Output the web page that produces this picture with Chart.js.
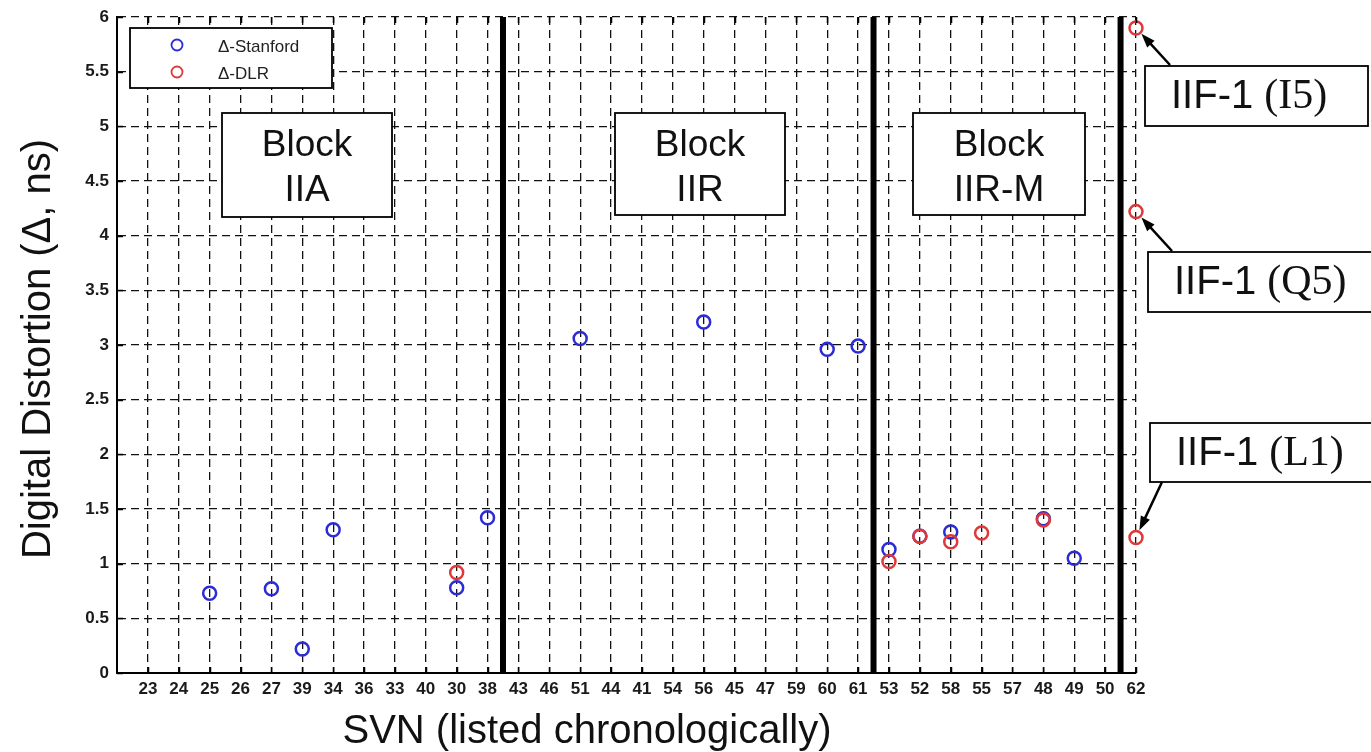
<!DOCTYPE html>
<html>
<head>
<meta charset="utf-8">
<script src="https://cdn.jsdelivr.net/npm/chart.js@4.4.1/dist/chart.umd.min.js"></script>
<style>
  html, body { margin: 0; padding: 0; background: #fff; }
  #wrap { width: 1371px; height: 752px; }
</style>
</head>
<body>
<div id="wrap"><canvas id="chart"></canvas></div>
<script>
// SVNs in launch order, and the measured distortion per SVN (null = not measured)
const svn = ["23", "24", "25", "26", "27", "39", "34", "36", "33", "40", "30", "38",
  "43", "46", "51", "44", "41", "54", "56", "45", "47", "59", "60", "61",
  "53", "52", "58", "55", "57", "48", "49", "50", "62"];
const stanford = [null, null, 0.73, null, 0.77, 0.22, 1.31, null, null, null, 0.78, 1.42,
  null, null, 3.06, null, null, null, 3.21, null, null, null, 2.96, 2.99,
  1.13, 1.25, 1.29, null, null, 1.41, 1.05, null, null];
const dlr = [null, null, null, null, null, null, null, null, null, null, 0.92, null,
  null, null, null, null, null, null, null, null, null, null, null, null,
  1.02, 1.25, 1.2, 1.28, null, 1.4, null, null, null];
// IIF-1 (SVN 62) measured on three signals
const iif1Svn = "62";
const iif1Signals = ["I5", "Q5", "L1"];
const iif1Values = [5.9, 4.22, 1.24];
// last SVN of each block, a thick line goes after it
const blockNames = ["IIA", "IIR", "IIR-M"];
const blockLast = ["38", "61", "50"];
const yTicks = [0, 0.5, 1, 1.5, 2, 2.5, 3, 3.5, 4, 4.5, 5, 5.5, 6];

const BLUE = "#2c2cd4";
const RED = "#de3838";
const SANS = "'Liberation Sans', Arial, sans-serif";
const SERIF = "'Liberation Serif', 'Times New Roman', serif";

function toPoints(values) {
  const pts = [];
  values.forEach((v, i) => { if (v !== null) pts.push({ x: i, y: v }); });
  return pts;
}

const dlrPoints = toPoints(dlr);
iif1Values.forEach((v) => dlrPoints.push({ x: svn.indexOf(iif1Svn), y: v }));

const separators = blockLast.map((s) => {
  const pos = svn.indexOf(s) + 0.5;
  return {
    type: "line",
    data: [{ x: pos, y: 0 }, { x: pos, y: 6 }],
    borderColor: "#000",
    borderWidth: 6,
    pointRadius: 0,
    showLine: true,
    order: 3,
  };
});

function arrow(ctx, x1, y1, x2, y2) {
  const ang = Math.atan2(y2 - y1, x2 - x1);
  ctx.beginPath();
  ctx.moveTo(x1, y1);
  ctx.lineTo(x2 - 10 * Math.cos(ang), y2 - 10 * Math.sin(ang));
  ctx.stroke();
  ctx.beginPath();
  ctx.moveTo(x2, y2);
  ctx.lineTo(x2 - 14 * Math.cos(ang) + 5 * Math.sin(ang), y2 - 14 * Math.sin(ang) - 5 * Math.cos(ang));
  ctx.lineTo(x2 - 14 * Math.cos(ang) - 5 * Math.sin(ang), y2 - 14 * Math.sin(ang) + 5 * Math.cos(ang));
  ctx.closePath();
  ctx.fill();
}

function box(ctx, x, y, w, h) {
  ctx.fillStyle = "#fff";
  ctx.fillRect(x, y, w, h);
  ctx.strokeStyle = "#000";
  ctx.lineWidth = 1.8;
  ctx.strokeRect(x, y, w, h);
}

// ticks, labels, legend and text boxes drawn like the matlab figure
const overlay = {
  id: "overlay",
  afterDraw(chart) {
    const { ctx, chartArea: a, scales: { x, y } } = chart;
    ctx.save();

    // inward tick marks
    ctx.strokeStyle = "#000";
    ctx.lineWidth = 1.5;
    ctx.beginPath();
    svn.forEach((s, i) => {
      const px = Math.round(x.getPixelForValue(i)) + 0.5;
      ctx.moveTo(px, a.bottom); ctx.lineTo(px, a.bottom - 6);
      ctx.moveTo(px, a.top); ctx.lineTo(px, a.top + 6);
    });
    yTicks.forEach((v) => {
      const py = Math.round(y.getPixelForValue(v)) + 0.5;
      ctx.moveTo(a.left, py); ctx.lineTo(a.left + 6, py);
    });
    ctx.stroke();

    // tick labels
    ctx.fillStyle = "#1a1a1a";
    ctx.font = "bold 17px " + SANS;
    ctx.textAlign = "center";
    ctx.textBaseline = "middle";
    svn.forEach((s, i) => ctx.fillText(s, x.getPixelForValue(i), a.bottom + 16));
    ctx.textAlign = "right";
    yTicks.forEach((v) => ctx.fillText(String(v), a.left - 8, y.getPixelForValue(v)));

    // axis titles
    ctx.fillStyle = "#111";
    ctx.font = "40px " + SANS;
    ctx.textAlign = "center";
    ctx.textBaseline = "alphabetic";
    ctx.fillText("SVN (listed chronologically)", 587, 743);
    ctx.save();
    ctx.translate(50, 349);
    ctx.rotate(-Math.PI / 2);
    ctx.fillText("Digital Distortion (\u0394, ns)", 0, 0);
    ctx.restore();

    // legend
    box(ctx, 130, 28, 202, 60);
    const ds = chart.data.datasets.filter((d) => d.label);
    ds.forEach((d, i) => {
      const cy = 45 + i * 27;
      ctx.beginPath();
      ctx.arc(177, cy, 5.5, 0, Math.PI * 2);
      ctx.strokeStyle = d.borderColor;
      ctx.lineWidth = 1.8;
      ctx.stroke();
      ctx.fillStyle = "#222";
      ctx.font = "17px " + SANS;
      ctx.textAlign = "left";
      ctx.textBaseline = "middle";
      ctx.fillText(d.label, 218, cy + 2);
    });

    // block boxes
    const blockBoxes = [[222, 113, 170, 104], [615, 113, 170, 102], [913, 113, 172, 102]];
    blockNames.forEach((n, i) => {
      const [bx, by, bw, bh] = blockBoxes[i];
      box(ctx, bx, by, bw, bh);
      ctx.fillStyle = "#111";
      ctx.font = "37px " + SANS;
      ctx.textAlign = "center";
      ctx.textBaseline = "alphabetic";
      ctx.fillText("Block", bx + bw / 2, by + 43);
      ctx.fillText(n, bx + bw / 2, by + 88);
    });

    // IIF-1 callouts, arrow points at the DLR marker
    const callouts = [[1145, 66, 223, 60, 1170, 65], [1148, 252, 240, 60, 1172, 251], [1150, 423, 240, 59, 1162, 482]];
    const px62 = x.getPixelForValue(svn.indexOf(iif1Svn));
    iif1Signals.forEach((sig, i) => {
      const [bx, by, bw, bh, sx, sy] = callouts[i];
      box(ctx, bx, by, bw, bh);
      ctx.fillStyle = "#111";
      ctx.textAlign = "left";
      ctx.textBaseline = "alphabetic";
      ctx.font = "40px " + SANS;
      ctx.fillText("IIF-1", bx + 26, by + 42);
      const w = ctx.measureText("IIF-1").width;
      ctx.font = "42px " + SERIF;
      ctx.fillText("(" + sig + ")", bx + 26 + w + 11, by + 42);
      const py = y.getPixelForValue(iif1Values[i]);
      const d = Math.hypot(sx - px62, sy - py);
      const ex = px62 + (sx - px62) / d * 8;
      const ey = py + (sy - py) / d * 8;
      ctx.strokeStyle = "#000";
      ctx.fillStyle = "#000";
      ctx.lineWidth = 2.5;
      arrow(ctx, sx, sy, ex, ey);
    });

    ctx.restore();
  },
};

new Chart(document.getElementById("chart"), {
  type: "scatter",
  data: {
    datasets: [
      {
        label: "\u0394-Stanford",
        data: toPoints(stanford),
        borderColor: BLUE,
        backgroundColor: "transparent",
        pointRadius: 6.5,
        borderWidth: 2.5,
        clip: false,
        order: 2,
      },
      {
        label: "\u0394-DLR",
        data: dlrPoints,
        borderColor: RED,
        backgroundColor: "transparent",
        pointRadius: 6.5,
        borderWidth: 2.5,
        clip: false,
        order: 1,
      },
      ...separators,
    ],
  },
  options: {
    responsive: true,
    maintainAspectRatio: false,
    animation: false,
    layout: { padding: { left: 117, right: 235, top: 17, bottom: 79 } },
    plugins: { legend: { display: false }, tooltip: { enabled: false } },
    scales: {
      x: {
        type: "linear",
        min: -1,
        max: 32,
        ticks: { display: false, stepSize: 1 },
        grid: { color: "#111", lineWidth: 1.3, drawTicks: false },
        border: { color: "#000", width: 2, dash: [8, 5] },
        afterFit: (s) => { s.height = 0; },
      },
      y: {
        min: 0,
        max: 6,
        ticks: { display: false, stepSize: 0.5 },
        grid: { color: "#111", lineWidth: 1.3, drawTicks: false },
        border: { color: "#000", width: 2, dash: [8, 5] },
        afterFit: (s) => { s.width = 0; },
      },
    },
  },
  plugins: [overlay],
});
</script>
</body>
</html>
